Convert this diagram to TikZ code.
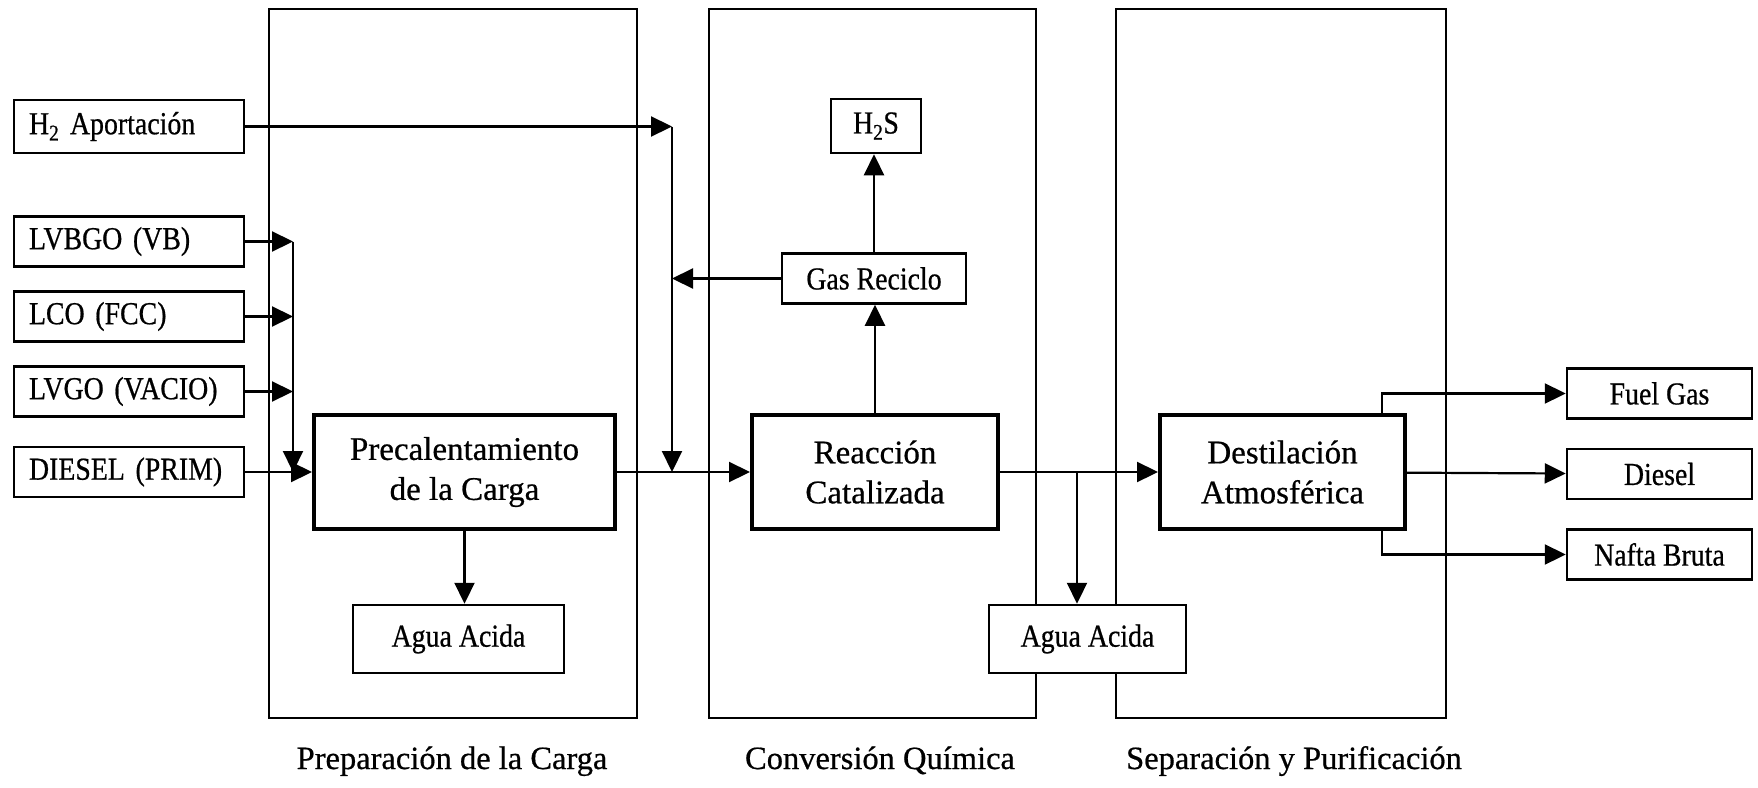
\documentclass[tikz,border=0pt]{standalone}
\usepackage{fontspec}
\setmainfont{Liberation Serif}[FakeBold=0.6]
\newfontfamily\narrowserif{Liberation Serif}[FakeStretch=0.87, FakeBold=0.6]
\usetikzlibrary{positioning, arrows.meta}
\tikzset{
  ->,
  >={Triangle[length=21pt,width=20pt]},
  node distance=22.5pt,
  zone/.style={draw, line width=1.3pt, minimum height=709pt, inner sep=0pt},
  zonelabel/.style={anchor=base, font=\fontsize{32.5}{38}\selectfont},
  feed/.style={draw, line width=2.5pt, fill=white, minimum height=50pt,
    text width=200pt, inner xsep=15pt, inner ysep=0pt, align=left,
    font=\narrowserif\fontsize{32}{38}\selectfont},
  product/.style={draw, line width=2.5pt, fill=white, minimum height=50pt,
    inner sep=0pt, font=\narrowserif\fontsize{32}{38}\selectfont},
  unit/.style={draw, line width=4pt, fill=white, minimum height=114pt,
    inner sep=0pt, align=center, font=\fontsize{33}{40}\selectfont},
}

\begin{document}
\begin{tikzpicture}[x=1pt, y=-1pt, line width=2.2pt]
        \useasboundingbox (0,0) rectangle (1758,787);

        % zones
        \node[zone, minimum width=368pt] (fprep) at (453,363.5) {};
        \node[zone, minimum width=327pt] (fconv) at (872.5,363.5) {};
        \node[zone, minimum width=330pt] (fsep) at (1281,363.5) {};
        \node[zonelabel] (lprep) at (452,769) {Preparación de la Carga};
        \node[zonelabel] (lconv) at (880,769) {Conversión Química};
        \node[zonelabel] (lsep) at (1294,769) {Separación y Purificación};

        % feeds
        \node[feed, minimum height=53pt] (h2) at (129,126.5) {H\textsubscript{2} Aportación};
        \node[feed] (lvbgo) at (129,241.5) {LVBGO (VB)};
        \node[feed, below=of lvbgo] (lco) {LCO (FCC)};
        \node[feed, below=of lco] (lvgo) {LVGO (VACIO)};
        \node[feed] (dieselin) at (129,472) {DIESEL (PRIM)};

        % units
        \node[unit, minimum width=301pt] (precal) at (464.5,472) {Precalentamiento\\de la Carga};
        \node[unit, minimum width=246pt] (reac) at (875,472) {Reacción\\Catalizada};
        \node[unit, minimum width=245pt] (dest) at (1282.5,472) {Destilación\\Atmosférica};

        % side streams
        \node[product, minimum width=184pt] (gas) at (874,278.5) {Gas Reciclo};
        \node[product, minimum width=90pt, minimum height=54pt] (h2s) at (876,126) {H\textsubscript{2}S};
        \node[product, minimum width=211pt, minimum height=68pt] (agua1) at (458.5,639) {Agua Acida};
        \node[product, minimum width=197pt, minimum height=68pt] (agua2) at (1087.5,639) {Agua Acida};

        % products
        \node[product, minimum width=185pt] (dieselout) at (1659.5,474) {Diesel};
        \node[product, minimum width=185pt, above=28pt of dieselout] (fuel) {Fuel Gas};
        \node[product, minimum width=185pt, below=28pt of dieselout] (nafta) {Nafta Bruta};

        % junctions
        \coordinate (fmix) at (293,472);
        \coordinate (hmix) at (672,472);
        \coordinate (wsplit) at (1077,472);

        % streams
        \draw (lvbgo) -- (lvbgo -| fmix);
        \draw (lco) -- (lco -| fmix);
        \draw (lvgo) -- (lvgo -| fmix);
        \draw (lvbgo -| fmix) -- (fmix);
        \draw (dieselin) -- (precal);
        \draw (h2) -- (h2 -| hmix);
        \draw (h2 -| hmix) -- (hmix);
        \draw (gas) -- (gas -| hmix);
        \draw (precal) -- (reac);
        \draw (precal.south) -- (precal.south |- agua1.north);
        \draw (reac.north) -- (reac.north |- gas.south);
        \draw (gas.north) -- (gas.north |- h2s.south);
        \draw (reac) -- (dest);
        \draw (wsplit) -- (wsplit |- agua2.north);
        \draw ([xshift=-25pt]dest.north east) |- (fuel);
        \draw (dest) -- (dieselout);
        \draw ([xshift=-25pt]dest.south east) |- (nafta);
      \end{tikzpicture}
\end{document}
